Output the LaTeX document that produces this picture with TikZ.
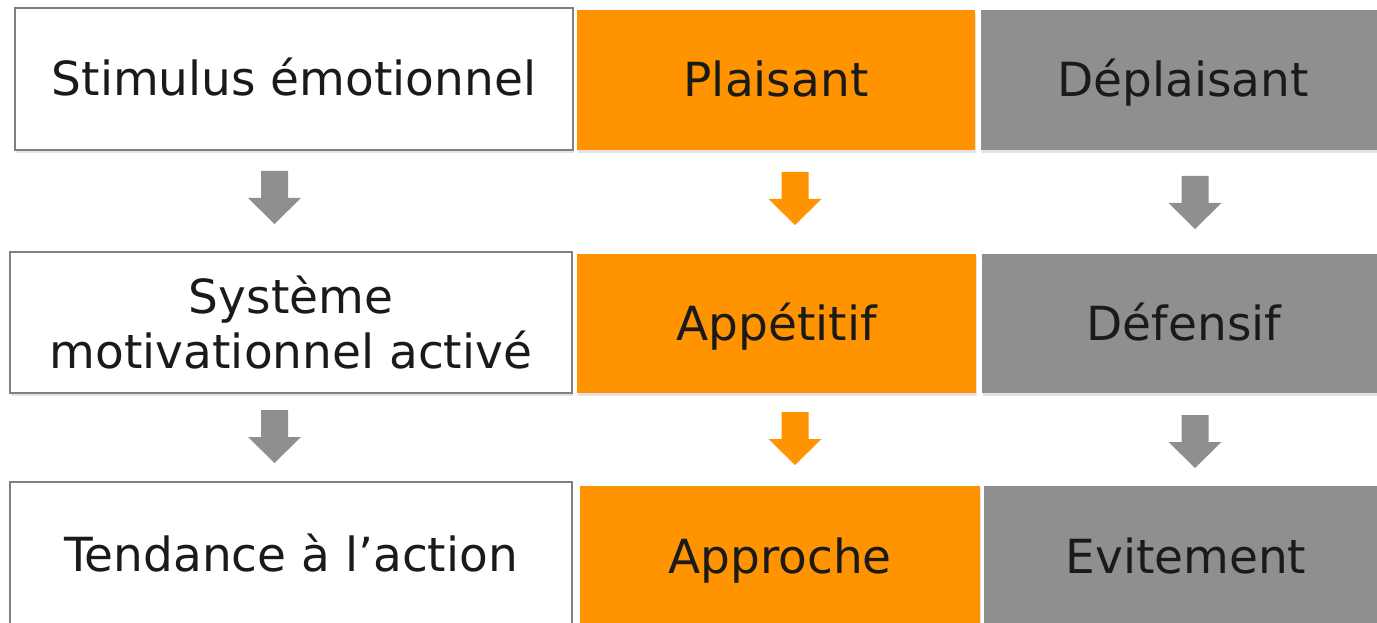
\documentclass[tikz,border=0pt]{standalone}
\usepackage{fontspec}
\setmainfont{DejaVu Sans}
\usetikzlibrary{shadows}
\definecolor{orng}{RGB}{255,148,0}
\definecolor{grey}{RGB}{143,143,143}
\definecolor{edge}{RGB}{128,128,128}
\definecolor{ink}{RGB}{26,26,26}
\tikzset{
  shade it/.style={drop shadow={opacity=0.22, shadow xshift=1pt, shadow yshift=-3pt}},
  box/.style={rectangle, inner sep=0pt, outer sep=0pt, anchor=north west, align=center,
    font=\fontsize{47}{55}\selectfont, text=ink, shade it},
  oneline/.style={text height=44pt, text depth=10pt},
  lowline/.style={text height=42pt, text depth=13pt},
  whitebox/.style={box, draw=edge, line width=2.5pt, fill=white},
  orangebox/.style={box, fill=orng},
  greybox/.style={box, fill=grey},
  downarrow/.pic={\fill[pic actions] (-13.5,0) -- (13.5,0) -- (13.5,27) -- (26.5,27) -- (0,53) -- (-26.5,27) -- (-13.5,27) -- cycle;}
}
\begin{document}
\begin{tikzpicture}[x=1pt,y=-1pt]
\path[use as bounding box, clip] (0,0) rectangle (1377,623);
% row 1
\node[whitebox, oneline, minimum width=558pt, minimum height=142pt] (s1) at (15,8) {Stimulus émotionnel};
\node[orangebox, oneline, minimum width=398pt, minimum height=140pt] (o1) at (577,10) {Plaisant};
\node[greybox, oneline, minimum width=404pt, minimum height=140pt] (g1) at (981,10) {Déplaisant};
% row 2
\node[whitebox, minimum width=562pt, minimum height=141pt] (s2) at (10,252) {Système\\motivationnel activé};
\node[orangebox, oneline, minimum width=399pt, minimum height=139pt] (o2) at (577,254) {Appétitif};
\node[greybox, oneline, minimum width=404pt, minimum height=139pt] (g2) at (982,254) {Défensif};
% row 3
\node[whitebox, lowline, minimum width=562pt, minimum height=150pt] (s3) at (10,482) {Tendance à l’action};
\node[orangebox, lowline, minimum width=400pt, minimum height=145pt] (o3) at (580,486) {Approche};
\node[greybox, lowline, minimum width=404pt, minimum height=145pt] (g3) at (984,486) {Evitement};
% arrows
\pic[fill=grey, shade it] (as1) at (274.5,171) {downarrow};
\pic[fill=orng, shade it] (ao1) at (795,172) {downarrow};
\pic[fill=grey, shade it] (ag1) at (1195,176) {downarrow};
\pic[fill=grey, shade it] (as2) at (274.5,410) {downarrow};
\pic[fill=orng, shade it] (ao2) at (795,412) {downarrow};
\pic[fill=grey, shade it] (ag2) at (1195,415) {downarrow};
\end{tikzpicture}
\end{document}
